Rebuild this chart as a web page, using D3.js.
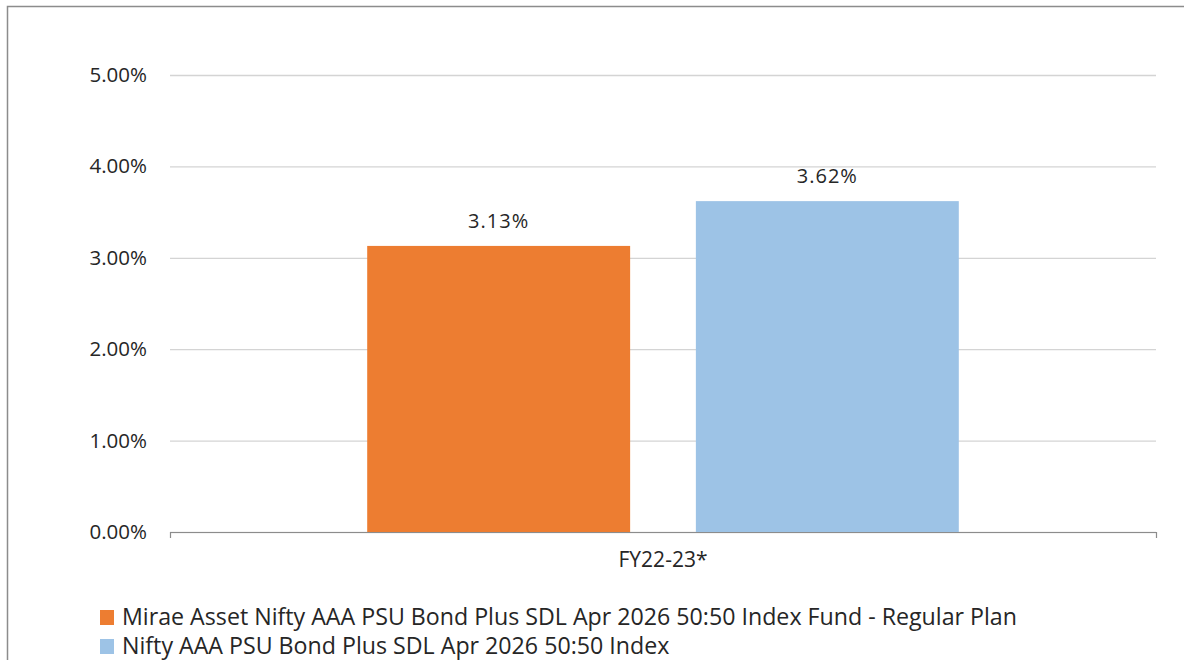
<!DOCTYPE html>
<html>
<head>
<meta charset="utf-8">
<script src="https://cdn.jsdelivr.net/npm/d3@7"></script>
<style>
  html, body { margin: 0; padding: 0; background: #fff; }
  svg { display: block; font-family: "Open Sans", "Segoe UI", sans-serif; }
</style>
</head>
<body>
<div id="chart"></div>
<script>
// chart data
const categories = ["FY22-23*"];
const seriesNames = [
  "Mirae Asset Nifty AAA PSU Bond Plus SDL Apr 2026 50:50 Index Fund - Regular Plan",
  "Nifty AAA PSU Bond Plus SDL Apr 2026 50:50 Index"
];
const seriesValues = [
  [3.13],
  [3.62]
];
const seriesColors = ["#ED7D31", "#9DC3E6"];
const yTicks = [0, 1, 2, 3, 4, 5];

const width = 1184, height = 660;
const margin = { top: 75, right: 28, bottom: 128, left: 170 };

const svg = d3.select("#chart").append("svg")
    .attr("width", width)
    .attr("height", height);

// outer frame (right/bottom edges fall outside the picture)
svg.append("rect")
    .attr("x", 7.5).attr("y", 6.5)
    .attr("width", width + 10).attr("height", height + 10)
    .attr("fill", "none")
    .attr("stroke", "#8c8c8c")
    .attr("stroke-width", 1.5);

const x0 = d3.scaleBand()
    .domain(categories)
    .range([margin.left, width - margin.right])
    .paddingInner(0.25)
    .paddingOuter(0.25);

const x1 = d3.scaleBand()
    .domain(d3.range(seriesNames.length))
    .range([0, x0.bandwidth()])
    .paddingInner(0.2);

const y = d3.scaleLinear()
    .domain([0, 5])
    .range([height - margin.bottom, margin.top]);

// gridlines + y labels
const yAxis = g => g
    .attr("transform", `translate(${margin.left},0)`)
    .call(d3.axisLeft(y).tickValues(yTicks)
        .tickSize(-(width - margin.left - margin.right))
        .tickPadding(23)
        .tickFormat(d => d3.format(".2f")(d) + "%"))
    .call(g => g.select(".domain").remove())
    .call(g => g.selectAll(".tick line").attr("stroke", "#d4d4d4").attr("stroke-width", 1.3))
    .call(g => g.selectAll(".tick text")
        .attr("font-size", 20.5)
        .attr("fill", "#262626")
        .attr("font-family", "Open Sans"));

svg.append("g").call(yAxis);

// bars
categories.forEach((cat, ci) => {
  seriesValues.forEach((vals, si) => {
    const v = vals[ci];
    const bx = x0(cat) + x1(si);
    svg.append("rect")
        .attr("x", bx)
        .attr("y", y(v))
        .attr("width", x1.bandwidth())
        .attr("height", y(0) - y(v))
        .attr("fill", seriesColors[si]);
    svg.append("text")
        .attr("x", bx + x1.bandwidth() / 2)
        .attr("y", y(v) - 18)
        .attr("text-anchor", "middle")
        .attr("font-size", 20)
        .attr("letter-spacing", 1)
        .attr("fill", "#262626")
        .text(d3.format(".2f")(v) + "%");
  });
});

// x axis
const xAxis = g => g
    .attr("transform", `translate(0,${y(0)})`)
    .call(d3.axisBottom(x0).tickSize(0).tickPadding(20).tickSizeOuter(6))
    .call(g => g.select(".domain").attr("stroke", "#8c8c8c").attr("stroke-width", 1.2))
    .call(g => g.selectAll(".tick text")
        .attr("font-size", 21)
        .attr("fill", "#262626")
        .attr("font-family", "Open Sans"));

svg.append("g").call(xAxis);

// legend
const legend = svg.append("g").attr("transform", "translate(100,610)");
seriesNames.forEach((name, i) => {
  const row = legend.append("g").attr("transform", `translate(0,${i * 29})`);
  row.append("rect")
      .attr("width", 14).attr("height", 15)
      .attr("fill", seriesColors[i]);
  row.append("text")
      .attr("x", 22)
      .attr("y", 15)
      .attr("font-size", 23.2)
      .attr("fill", "#262626")
      .text(name);
});
</script>
</body>
</html>
